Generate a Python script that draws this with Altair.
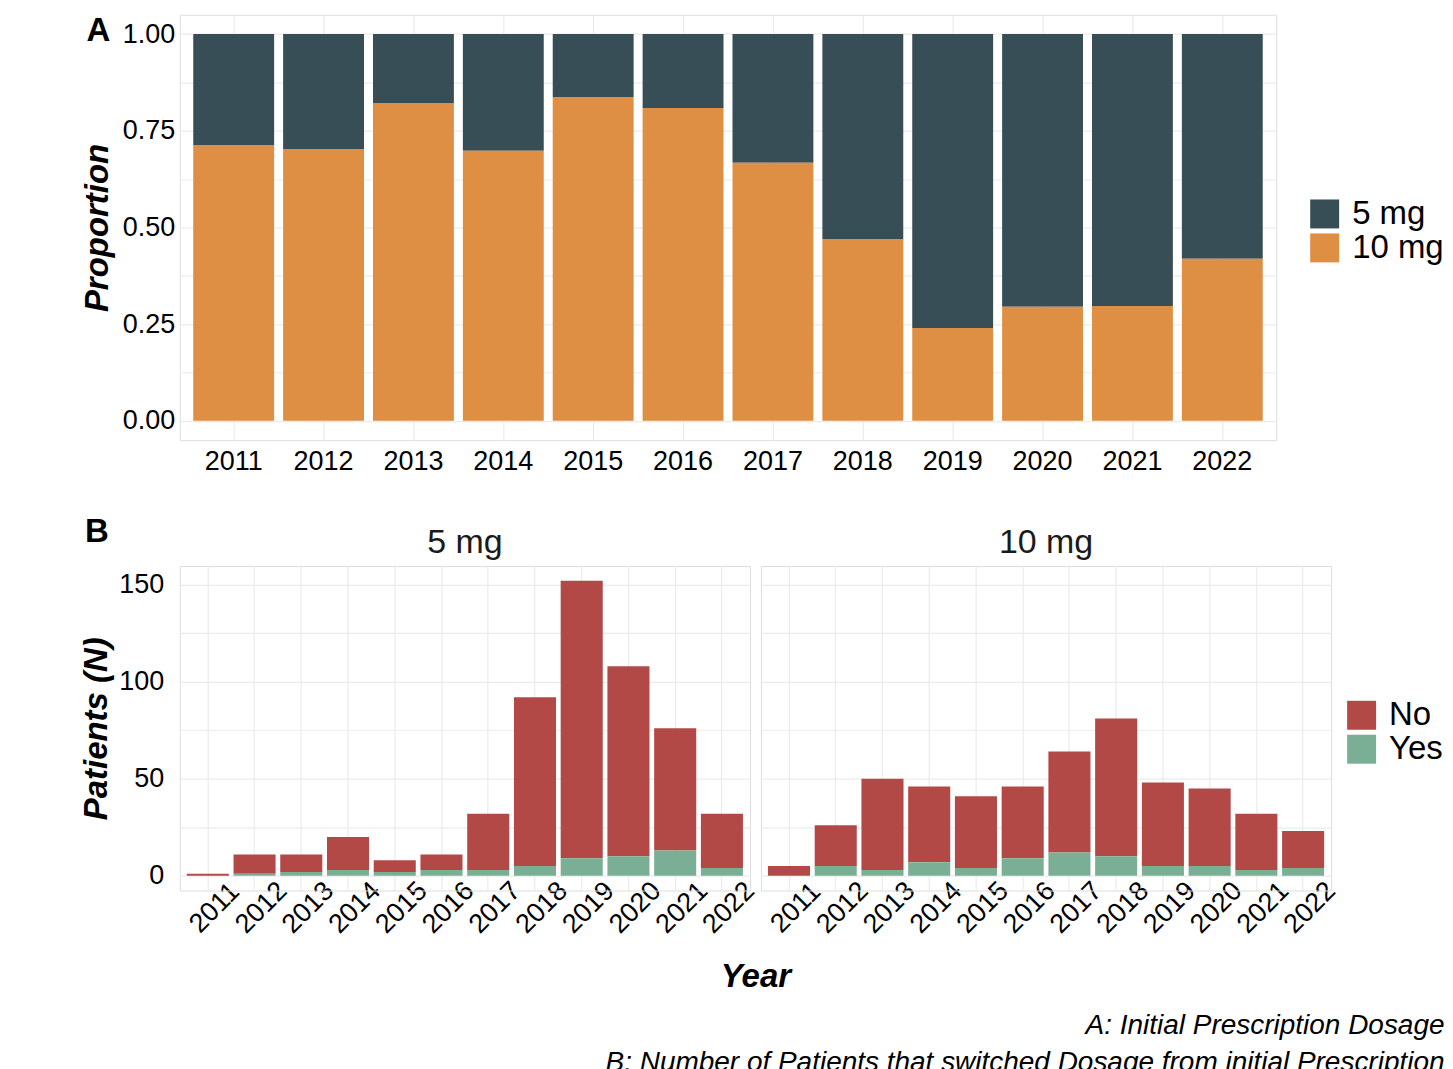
import altair as alt
import pandas as pd

FONT = "Liberation Sans"

years = ["2011", "2012", "2013", "2014", "2015", "2016",
         "2017", "2018", "2019", "2020", "2021", "2022"]
doses = ["5 mg", "10 mg"]

# Panel A: share of initial prescriptions per dose
share_10mg = [0.713, 0.703, 0.822, 0.698, 0.837, 0.809,
              0.667, 0.470, 0.240, 0.295, 0.297, 0.419]
share_5mg = [0.287, 0.297, 0.178, 0.302, 0.163, 0.191,
             0.333, 0.530, 0.760, 0.705, 0.703, 0.581]

# Panel B: patients that switched dosage (Yes) or not (No)
switch_labels = ["No", "Yes"]
no_5mg = [1, 10, 9, 17, 6, 8, 29, 87, 143, 98, 63, 28]
yes_5mg = [0, 1, 2, 3, 2, 3, 3, 5, 9, 10, 13, 4]
no_10mg = [5, 21, 47, 39, 37, 37, 52, 71, 43, 40, 29, 19]
yes_10mg = [0, 5, 3, 7, 4, 9, 12, 10, 5, 5, 3, 4]

caption_lines = ["A: Initial Prescription Dosage",
                 "B: Number of Patients that switched Dosage from initial Prescription"]

rows_a = []
for i, y in enumerate(years):
    rows_a.append({"year": y, "dose": "5 mg", "prop": share_5mg[i], "ord": 1})
    rows_a.append({"year": y, "dose": "10 mg", "prop": share_10mg[i], "ord": 0})
df_a = pd.DataFrame(rows_a)

rows_b = []
for dose, no, yes in [("5 mg", no_5mg, yes_5mg), ("10 mg", no_10mg, yes_10mg)]:
    for i, y in enumerate(years):
        rows_b.append({"year": y, "dose": dose, "switched": "No", "n": no[i], "ord": 1})
        rows_b.append({"year": y, "dose": dose, "switched": "Yes", "n": yes[i], "ord": 0})
df_b = pd.DataFrame(rows_b)

grid_a = [i * 0.125 for i in range(9)]
grid_b = [i * 25 for i in range(7)]
GRID = "#EBEBEB"

# ---------------- Panel A ----------------
bars_a = alt.Chart(df_a).mark_bar().encode(
    x=alt.X("year:N", sort=years,
            scale=alt.Scale(paddingInner=0.1, paddingOuter=0.15),
            axis=alt.Axis(title=None, labelAngle=0, labelFontSize=27, labelFont=FONT,
                          labelColor="black", labelPadding=8, ticks=False, domain=False,
                          grid=True, bandPosition=0.5, gridColor=GRID, gridWidth=1.2)),
    y=alt.Y("prop:Q", stack="zero",
            scale=alt.Scale(domain=[-0.05, 1.05], nice=False, zero=False),
            axis=alt.Axis(title="Proportion", values=grid_a,
                          labelExpr="(datum.value * 4) % 1 == 0 ? format(datum.value, '.2f') : ''",
                          labelFontSize=27, labelFont=FONT, labelColor="black", labelPadding=5,
                          ticks=False, domain=False, gridColor=GRID, gridWidth=1.2,
                          minExtent=59, maxExtent=59,
                          titleFontSize=33, titleFont=FONT, titleFontWeight="bold",
                          titleFontStyle="italic", titleColor="black", titlePadding=6)),
    color=alt.Color("dose:N", scale=alt.Scale(domain=doses, range=["#384E56", "#DE8F44"]),
                    legend=alt.Legend(title=None, orient="none", legendX=1130, legendY=183,
                                      symbolType="square", symbolSize=841, symbolStrokeWidth=0,
                                      labelFontSize=33, labelFont=FONT, labelColor="black",
                                      labelOffset=11, rowPadding=0)),
    order=alt.Order("ord:Q"),
)

tag_a = alt.Chart(pd.DataFrame({"tag": ["A"]})).mark_text(
    font=FONT, fontSize=33, fontWeight="bold", color="black", align="center", baseline="middle"
).encode(text="tag:N", x=alt.value(-81.5), y=alt.value(16))

panel_a = alt.layer(bars_a, tag_a).properties(width=1098, height=426)

# ---------------- Panel B ----------------
bars_b = alt.Chart(df_b).mark_bar().encode(
    x=alt.X("year:N", sort=years,
            scale=alt.Scale(paddingInner=0.1, paddingOuter=0.15),
            axis=alt.Axis(title=None, labelAngle=-45, labelAlign="center", labelBaseline="middle",
                          labelFontSize=27, labelFont=FONT, labelColor="black",
                          labelPadding=16, labelOffset=7,
                          ticks=False, domain=False, grid=True, bandPosition=0.5,
                          gridColor=GRID, gridWidth=1.2)),
    y=alt.Y("n:Q", stack="zero",
            scale=alt.Scale(domain=[-7.6, 159.6], nice=False, zero=False),
            axis=alt.Axis(title="Patients (N)", values=grid_b,
                          labelExpr="datum.value % 50 == 0 ? datum.label : ''",
                          labelFontSize=27, labelFont=FONT, labelColor="black", labelPadding=15,
                          ticks=False, domain=False, gridColor=GRID, gridWidth=1.2,
                          minExtent=59, maxExtent=59,
                          titleFontSize=33, titleFont=FONT, titleFontWeight="bold",
                          titleFontStyle="italic", titleColor="black", titlePadding=6)),
    color=alt.Color("switched:N", scale=alt.Scale(domain=switch_labels, range=["#B34947", "#7AAF96"]),
                    legend=alt.Legend(title=None, orient="none", legendX=1167, legendY=133,
                                      symbolType="square", symbolSize=841, symbolStrokeWidth=0,
                                      labelFontSize=33, labelFont=FONT, labelColor="black",
                                      labelOffset=11, rowPadding=0)),
    order=alt.Order("ord:Q"),
).properties(width=571, height=325)

panel_b = bars_b.facet(
    column=alt.Column("dose:N", sort=doses,
                      header=alt.Header(title="Year", titleOrient="bottom", titleFontSize=33,
                                        titleFont=FONT, titleFontWeight="bold",
                                        titleFontStyle="italic", titleColor="black",
                                        titlePadding=13,
                                        labelOrient="top", labelFontSize=34, labelFont=FONT,
                                        labelColor="#1A1A1A", labelPadding=5)),
    spacing=9,
).properties(
    title=alt.TitleParams("B", orient="top", anchor="start", fontSize=33, font=FONT,
                          fontWeight="bold", color="black", offset=0, dx=4, dy=23)
)

chart = alt.ConcatChart(concat=[panel_a, panel_b], columns=1, align="none", spacing=41).resolve_scale(
    color="independent", x="independent", y="independent"
).resolve_legend(color="independent").properties(
    padding={"left": 73, "top": 5, "right": 0, "bottom": 5},
    title=alt.TitleParams(caption_lines, orient="bottom", anchor="end", fontSize=28, font=FONT,
                          fontWeight="normal", fontStyle="italic", color="black",
                          lineHeight=37, offset=18)
).configure_view(stroke=None).configure(background="white")

chart.save("out.html", embed_options={"renderer": "svg", "actions": False})
